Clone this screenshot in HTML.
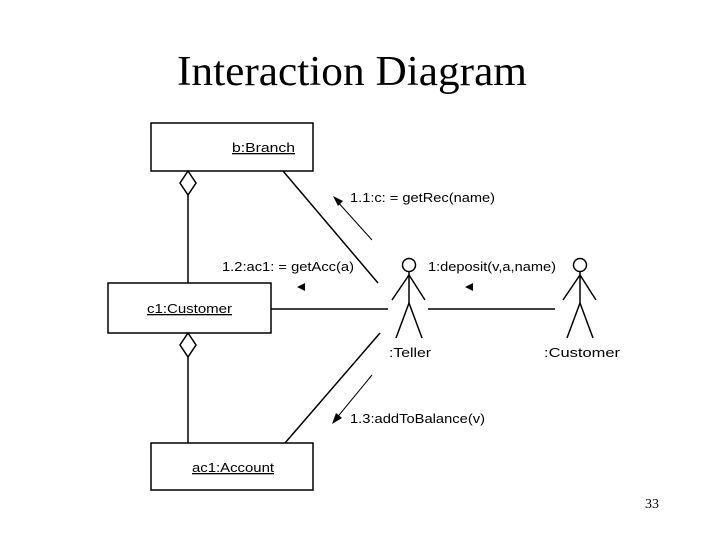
<!DOCTYPE html>
<html><head><meta charset="utf-8"><style>
html,body{margin:0;padding:0;background:#fff;}
svg{display:block;}
.s{font-family:"Liberation Sans",Arial,sans-serif;font-size:13px;fill:#000;}
</style></head><body>
<svg width="720" height="540" viewBox="0 0 720 540" xmlns="http://www.w3.org/2000/svg">
<text x="177" y="85" font-family="Liberation Serif,serif" font-size="42" textLength="350" lengthAdjust="spacingAndGlyphs">Interaction Diagram</text>
<g stroke="#000" stroke-width="1.5" fill="none">
<rect x="151" y="123" width="162" height="48"/>
<rect x="108" y="283" width="163" height="50"/>
<rect x="151" y="443" width="162" height="47"/>
<polygon points="188,171 196,183 188,195 180,183"/>
<line x1="188" y1="195" x2="188" y2="283"/>
<polygon points="188,333 196,345 188,357 180,345"/>
<line x1="188" y1="357" x2="188" y2="443"/>
<line x1="283" y1="171" x2="378" y2="283"/>
<line x1="380" y1="333" x2="285" y2="443"/>
<line x1="271" y1="309" x2="388" y2="309"/>
<line x1="428" y1="309" x2="555" y2="309"/>
<line x1="336" y1="200" x2="372" y2="240" stroke-width="1"/>
<line x1="372" y1="375" x2="335" y2="420" stroke-width="1"/>
<circle cx="409" cy="265" r="6.5"/>
<line x1="409" y1="272" x2="409" y2="303"/>
<polyline points="392,300 409,275 425,300"/>
<polyline points="396,338 409,303 422,338"/>
<circle cx="580" cy="265" r="6.5"/>
<line x1="580" y1="272" x2="580" y2="303"/>
<polyline points="563,300 580,275 596,300"/>
<polyline points="567,338 580,303 593,338"/>
</g>
<g fill="#000">
<polygon points="333,196 343,201 338,206"/>
<polygon points="332,424 336,413 342,418"/>
<polygon points="297,287 305,283 305,291"/>
<polygon points="465,287 473,283 473,291"/>
</g>
<text class="s" x="232" y="152" text-decoration="underline" textLength="63" lengthAdjust="spacingAndGlyphs">b:Branch</text>
<text class="s" x="147" y="313" text-decoration="underline" textLength="85" lengthAdjust="spacingAndGlyphs">c1:Customer</text>
<text class="s" x="192" y="472" text-decoration="underline" textLength="82" lengthAdjust="spacingAndGlyphs">ac1:Account</text>
<text class="s" x="350" y="202" textLength="145" lengthAdjust="spacingAndGlyphs">1.1:c: = getRec(name)</text>
<text class="s" x="222" y="271" textLength="132" lengthAdjust="spacingAndGlyphs">1.2:ac1: = getAcc(a)</text>
<text class="s" x="428" y="271" textLength="128" lengthAdjust="spacingAndGlyphs">1:deposit(v,a,name)</text>
<text class="s" x="350" y="423" textLength="135" lengthAdjust="spacingAndGlyphs">1.3:addToBalance(v)</text>
<text class="s" x="389" y="357" textLength="42" lengthAdjust="spacingAndGlyphs">:Teller</text>
<text class="s" x="544" y="357" textLength="76" lengthAdjust="spacingAndGlyphs">:Customer</text>
<text x="645" y="508" font-family="Liberation Serif,serif" font-size="14">33</text>
</svg>
</body></html>
